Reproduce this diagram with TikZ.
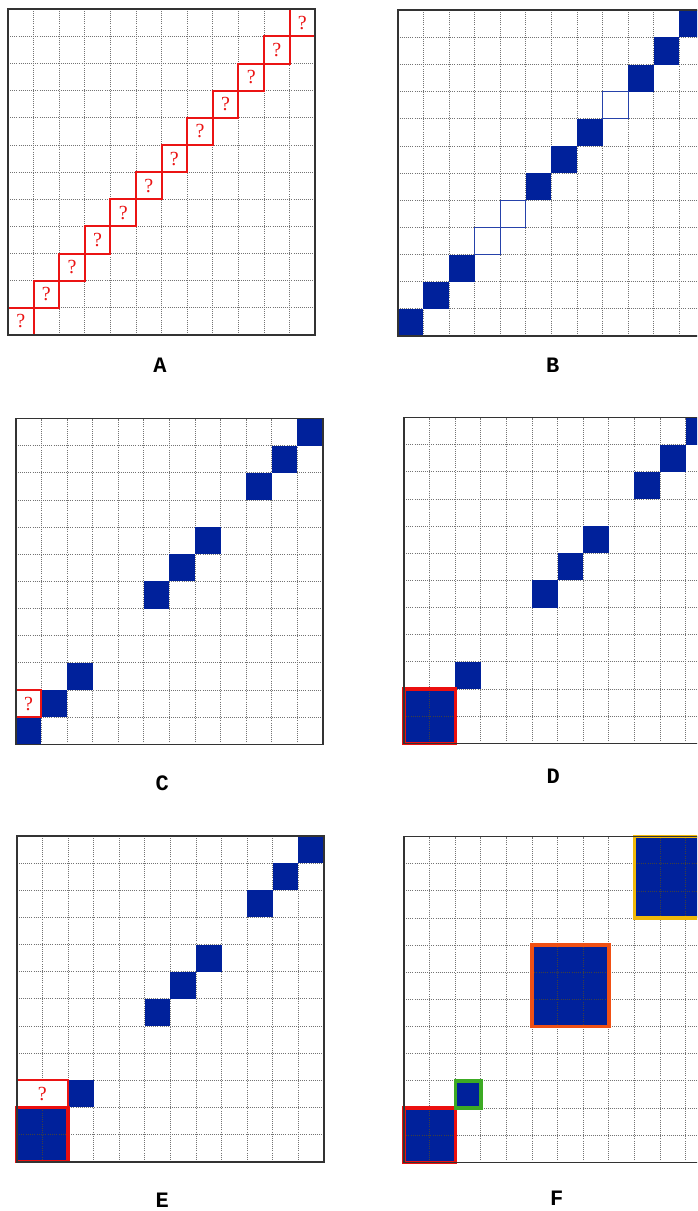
\documentclass[tikz,border=0pt]{standalone}
\usepackage{fontspec}
\newfontfamily\labfont{Liberation Mono}
\newfontfamily\qfont{Liberation Serif}
\definecolor{cellblue}{RGB}{0,33,155}
\definecolor{qred}{RGB}{235,20,20}
\definecolor{bred}{RGB}{235,15,15}
\definecolor{bgreen}{RGB}{60,170,35}
\definecolor{borange}{RGB}{240,80,20}
\definecolor{bgold}{RGB}{240,185,10}
\tikzset{
  gridl/.style={draw=black!55, line width=0.8pt, dash pattern=on 0.8pt off 1.3pt, step=1},
  gridin/.style={draw=black!75, line width=0.6pt, dash pattern=on 0.8pt off 1.4pt, step=1},
  frame/.style={draw=black!80, line width=1.6pt},
  fillcell/.style={fill=cellblue},
  emptycell/.style={draw=cellblue!85, line width=1pt},
  qbox/.style={draw=qred, line width=2pt},
  qmark/.style={text=qred, font=\qfont\fontsize{20}{20}\selectfont, inner sep=0pt},
  blk/.style={line width=3.4pt},
  lab/.style={font=\labfont\bfseries\fontsize{22}{22}\selectfont, inner sep=0pt},
  cellunits/.style={x=25.6pt, y=27.15pt}
}
\begin{document}
\begin{tikzpicture}
\useasboundingbox (0pt,0pt) rectangle (697pt,-1211pt);
\clip (0pt,0pt) rectangle (697pt,-1211pt);
\fill[white] (0pt,0pt) rectangle (697pt,-1211pt);

% ---------- A ----------
\begin{scope}[shift={(8pt,-335pt)}, cellunits]
  \draw[gridl] (0,0) grid (12,12);
  \foreach \i in {0,...,11} {
    \draw[qbox] (\i,\i) rectangle (\i+1,\i+1);
    \node[qmark] (qa\i) at (\i+0.5,\i+0.5) {?};
  }
  \draw[frame] (0,0) rectangle (12,12);
\end{scope}
\node[lab] (labA) at (160pt,-365pt) {A};

% ---------- B ----------
\begin{scope}[shift={(397.7pt,-336pt)}, cellunits]
  \draw[gridl] (0,0) grid (12,12);
  \foreach \i in {0,1,2,5,6,7,9,10,11} {
    \fill[fillcell] (\i,\i) rectangle (\i+1,\i+1);
  }
  \foreach \i in {3,4,8} {
    \draw[emptycell] (\i,\i) rectangle (\i+1,\i+1);
  }
  \draw[frame] (0,0) rectangle (12,12);
\end{scope}
\node[lab] (labB) at (552.7pt,-365pt) {B};

% ---------- C ----------
\begin{scope}[shift={(15.7pt,-744.3pt)}, cellunits]
  \draw[gridl] (0,0) grid (12,12);
  \foreach \i in {0,1,2,5,6,7,9,10,11} {
    \fill[fillcell] (\i,\i) rectangle (\i+1,\i+1);
  }
  \draw[qbox] (0,1) rectangle (1,2);
  \node[qmark] (qc) at (0.5,1.5) {?};
  \draw[frame] (0,0) rectangle (12,12);
\end{scope}
\node[lab] (labC) at (162.3pt,-783pt) {C};

% ---------- D ----------
\begin{scope}[shift={(404pt,-743.3pt)}, cellunits]
  \draw[gridl] (0,0) grid (12,12);
  \foreach \i in {2,5,6,7,9,10,11} {
    \fill[fillcell] (\i,\i) rectangle (\i+1,\i+1);
  }
  \fill[fillcell] (0,0) rectangle (2,2);
  \draw[gridin] (0,0) grid (2,2);
  \draw[blk, draw=bred] (0,0) rectangle (2,2);
  \draw[frame] (0,0) rectangle (12,12);
\end{scope}
\node[lab] (labD) at (553.3pt,-776pt) {D};

% ---------- E ----------
\begin{scope}[shift={(16.7pt,-1161.7pt)}, cellunits]
  \draw[gridl] (0,0) grid (12,12);
  \foreach \i in {2,5,6,7,9,10,11} {
    \fill[fillcell] (\i,\i) rectangle (\i+1,\i+1);
  }
  \fill[fillcell] (0,0) rectangle (2,2);
  \draw[gridin] (0,0) grid (2,2);
  \fill[white] (0,2) rectangle (2,3);
  \draw[qbox] (0,2) rectangle (2,3);
  \node[qmark] (qe) at (1,2.5) {?};
  \draw[blk, draw=bred] (0,0) rectangle (2,2);
  \draw[frame] (0,0) rectangle (12,12);
\end{scope}
\node[lab] (labE) at (162.3pt,-1200pt) {E};

% ---------- F ----------
\begin{scope}[shift={(404pt,-1162.3pt)}, cellunits]
  \draw[gridl] (0,0) grid (12,12);
  \fill[fillcell] (0,0) rectangle (2,2);
  \fill[fillcell] (2,2) rectangle (3,3);
  \fill[fillcell] (5,5) rectangle (8,8);
  \fill[fillcell] (9,9) rectangle (12,12);
  \draw[gridin] (0,0) grid (2,2);
  \draw[gridin] (5,5) grid (8,8);
  \draw[gridin] (9,9) grid (12,12);
  \draw[blk, draw=bred] (0,0) rectangle (2,2);
  \draw[blk, draw=bgreen] (2,2) rectangle (3,3);
  \draw[blk, draw=borange] (5,5) rectangle (8,8);
  \draw[blk, draw=bgold] (9,9) rectangle (12,12);
  \draw[frame] (0,0) rectangle (12,12);
\end{scope}
\node[lab] (labF) at (556.7pt,-1198pt) {F};
\end{tikzpicture}
\end{document}
